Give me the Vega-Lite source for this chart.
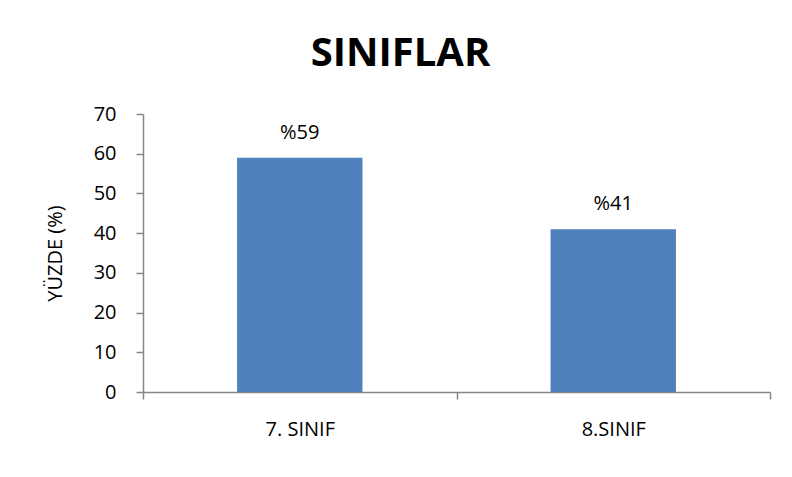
{
  "$schema": "https://vega.github.io/schema/vega-lite/v6.json",
  "width": 627,
  "height": 278,
  "autosize": {"type": "none"},
  "padding": {"left": 143, "top": 114, "right": 22, "bottom": 85},
  "background": "white",
  "config": {
    "view": {"stroke": null},
    "font": "Open Sans"
  },
  "title": {
    "text": "SINIFLAR",
    "font": "Open Sans",
    "fontSize": 40,
    "fontWeight": "bold",
    "color": "#000000",
    "anchor": "middle",
    "dx": -56,
    "offset": 30
  },
  "data": {
    "values": [
      {"sinif": "7. SINIF", "yuzde": 59, "etiket": "%59"},
      {"sinif": "8.SINIF", "yuzde": 41, "etiket": "%41"}
    ]
  },
  "encoding": {
    "x": {
      "field": "sinif",
      "type": "nominal",
      "sort": null,
      "scale": {"paddingInner": 0, "paddingOuter": 0},
      "axis": {
        "title": null,
        "labelAngle": 0,
        "labelFontSize": 20,
        "labelColor": "#000000",
        "labelPadding": 20,
        "tickBand": "extent",
        "tickSize": 7,
        "tickColor": "#868686",
        "domainColor": "#868686",
        "domainWidth": 1.5,
        "tickWidth": 1.5
      }
    },
    "y": {
      "field": "yuzde",
      "type": "quantitative",
      "scale": {"domain": [0, 70], "nice": false},
      "axis": {
        "title": "YÜZDE (%)",
        "titleFontSize": 20,
        "titleFont": "Open Sans",
        "titleFontWeight": "normal",
        "titleColor": "#000000",
        "titlePadding": 28,
        "values": [0, 10, 20, 30, 40, 50, 60, 70],
        "grid": false,
        "labelFontSize": 20,
        "labelColor": "#000000",
        "labelPadding": 20,
        "tickSize": 7,
        "tickColor": "#868686",
        "domainColor": "#868686",
        "domainWidth": 1.5,
        "tickWidth": 1.5
      }
    }
  },
  "layer": [
    {"mark": {"type": "bar", "color": "#4F81BD", "width": {"band": 0.4}}},
    {
      "mark": {"type": "text", "fontSize": 20, "color": "#000000", "baseline": "alphabetic", "dy": -19},
      "encoding": {"text": {"field": "etiket"}}
    }
  ]
}
